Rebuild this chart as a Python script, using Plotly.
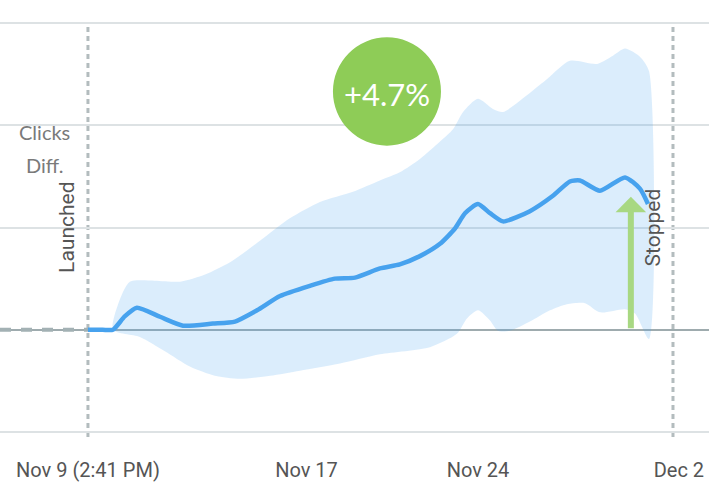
import plotly.graph_objects as go

# days since launch (Nov 9, 2:41 PM)
line_x = [0.0, 0.6, 1.02, 1.5, 2.0, 2.94, 3.88, 5.10, 6.0, 6.9, 7.84, 9.06, 10.08, 10.9, 11.92, 12.73,
          13.55, 14.37, 14.98, 15.39, 15.92, 16.41, 16.94, 18.04, 18.98, 19.67, 20.08, 20.9,
          21.92, 22.53, 22.86]
line_y = [0.0, 0.0, 0.0, 0.13, 0.215, 0.127, 0.04, 0.06, 0.08, 0.19, 0.33, 0.43, 0.50, 0.51, 0.60, 0.64,
          0.72, 0.84, 0.99, 1.14, 1.23, 1.14, 1.06, 1.16, 1.31, 1.45, 1.46, 1.36,
          1.49, 1.38, 1.23]

upper_x = [1.02, 1.31, 1.71, 2.73, 3.76, 4.78, 5.8, 7.02, 8.24, 9.47, 10.82, 11.92, 12.73, 13.55,
           14.37, 14.9, 15.31, 15.92, 16.53, 16.94, 17.63, 18.73, 19.67, 20.78, 21.43, 21.92,
           22.53, 22.9]
upper_y = [0.0, 0.30, 0.47, 0.48, 0.47, 0.54, 0.66, 0.87, 1.09, 1.25, 1.35, 1.46, 1.54, 1.67,
           1.84, 1.96, 2.13, 2.26, 2.16, 2.13, 2.24, 2.45, 2.63, 2.60, 2.68, 2.75,
           2.67, 2.53]

lower_x = [1.02, 2.12, 3.14, 4.16, 5.18, 6.2, 7.43, 8.65, 10.29, 11.92, 13.96, 15.06, 15.47,
           15.92, 16.41, 16.73, 17.22, 18.04, 18.86, 19.55, 20.29, 20.9, 21.92, 22.33, 22.9]
lower_y = [0.0, -0.07, -0.21, -0.36, -0.45, -0.48, -0.45, -0.40, -0.33, -0.24, -0.17, -0.04, 0.11,
           0.19, 0.09, -0.01, -0.01, 0.08, 0.19, 0.25, 0.26, 0.17, 0.20, 0.16, -0.09]

pre_x = [-3.59, 0.0]
pre_y = [0.0, 0.0]

tick_vals = [0.0, 8.92, 15.92, 24.12]
tick_text = ["Nov 9 (2:41 PM)", "Nov 17", "Nov 24", "Dec 2"]

launch_x = 0.0
stop_x = 23.88
lift_text = "+4.7%"
arrow_x = 22.16
arrow_top = 1.30

fig = go.Figure()

band_x = upper_x + lower_x[::-1]
band_y = upper_y + lower_y[::-1]
fig.add_trace(go.Scatter(x=band_x, y=band_y, fill="toself", mode="lines",
                         line=dict(width=0, shape="spline", smoothing=0.7),
                         fillcolor="rgba(74,163,238,0.2)", hoverinfo="skip"))
fig.add_trace(go.Scatter(x=pre_x, y=pre_y, mode="lines",
                         line=dict(color="#a3b1b4", width=4, dash="11px,10px"), hoverinfo="skip"))
fig.add_trace(go.Scatter(x=line_x, y=line_y, mode="lines",
                         line=dict(color="#47a2ee", width=4.5, shape="spline", smoothing=0.6),
                         hoverinfo="skip"))

for xv in (launch_x, stop_x):
    fig.add_shape(type="line", xref="x", yref="y", x0=xv, x1=xv, y0=-1.05, y1=3.0,
                  line=dict(color="#b3bcbe", width=3, dash="5px,4px"), layer="below")

# green circle
fig.add_shape(type="circle", xref="x", yref="y", x0=10.0, x1=14.41, y0=1.80, y1=2.86,
              fillcolor="#8ecc57", line=dict(width=0), layer="above")
fig.add_annotation(x=12.2, y=2.31, text=lift_text, showarrow=False,
                   font=dict(family="Lato", size=31, color="white"))

fig.add_annotation(x=arrow_x, y=arrow_top, ax=arrow_x, ay=0.0, axref="x", ayref="y",
                   text="", showarrow=True, arrowhead=1, arrowsize=0.85, arrowwidth=6,
                   arrowcolor="#a8d882", standoff=0)

fig.add_annotation(x=-1.755, y=1.93, text="Clicks", showarrow=False,
                   font=dict(family="Lato", size=20, color="#7a7a7a"))
fig.add_annotation(x=-1.755, y=1.61, text="Diff.", showarrow=False,
                   font=dict(family="Lato", size=20, color="#7a7a7a"))
fig.add_annotation(x=-0.88, y=1.0, text="Launched", textangle=-90, showarrow=False,
                   font=dict(family="Roboto", size=21, color="#555555"))
fig.add_annotation(x=23.06, y=1.0, text="Stopped", textangle=-90, showarrow=False,
                   font=dict(family="Roboto", size=21, color="#555555"))

fig.update_layout(
    width=717, height=489, margin=dict(l=0, r=8, t=18, b=52),
    plot_bgcolor="white", paper_bgcolor="white", showlegend=False,
    xaxis=dict(range=[-3.59, 25.35], showgrid=False, zeroline=False, showline=False,
               tickvals=tick_vals, ticktext=tick_text, ticks="", ticklabelstandoff=19,
               tickfont=dict(family="Roboto", size=20, color="#555555"), fixedrange=True),
    yaxis=dict(range=[-1.049, 3.049], tick0=0, dtick=1, showgrid=True, gridcolor="#dde2e4",
               gridwidth=1.5, zeroline=True, zerolinecolor="#9eabae", zerolinewidth=2,
               showticklabels=False, showline=False, fixedrange=True),
)

fig.write_html("out.html")
